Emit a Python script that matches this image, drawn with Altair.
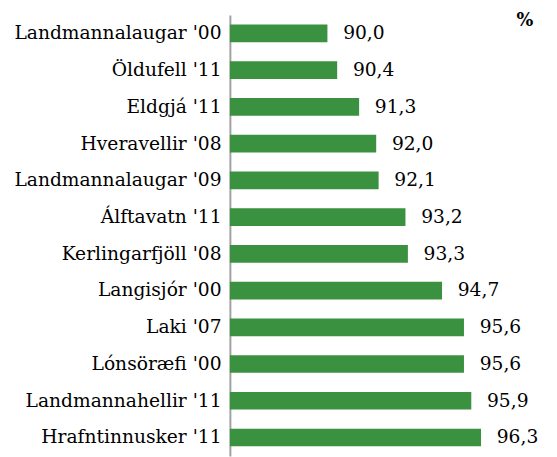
import altair as alt
import pandas as pd

categories = ["Landmannalaugar '00", "Öldufell '11", "Eldgjá '11", "Hveravellir '08",
              "Landmannalaugar '09", "Álftavatn '11", "Kerlingarfjöll '08", "Langisjór '00",
              "Laki '07", "Lónsöræfi '00", "Landmannahellir '11", "Hrafntinnusker '11"]
values = [90.0, 90.4, 91.3, 92.0, 92.1, 93.2, 93.3, 94.7, 95.6, 95.6, 95.9, 96.3]
axis_min = 86
axis_max = 98
labels = [f"{v:.1f}".replace(".", ",") for v in values]

df = pd.DataFrame({"cat": categories, "val": values, "lab": labels})
FONT = "DejaVu Serif"

y = alt.Y("cat:N", sort=categories, title=None,
          scale=alt.Scale(paddingInner=0.52, paddingOuter=0.26),
          axis=alt.Axis(labelFont=FONT, labelFontSize=19, labelColor="#000000",
                        labelPadding=9, ticks=False, domainColor="#a0a0a0",
                        domainWidth=2, labelLimit=300))
x = alt.X("val:Q", title=None, scale=alt.Scale(domain=[axis_min, axis_max], zero=False),
          axis=None)

bars = alt.Chart(df).mark_bar(color="#3A913F").encode(x=x, x2=alt.datum(axis_min), y=y)
text = alt.Chart(df).mark_text(align="left", dx=16, font=FONT, fontSize=19,
                               color="#000000").encode(x=x, y=y, text="lab:N")

chart = alt.layer(bars, text).properties(
    width=298, height=449,
    autosize=alt.AutoSizeParams(type="none"),
    padding={"left": 226, "top": 3, "right": 27, "bottom": 0},
    title=alt.TitleParams("%", anchor="end", font=FONT, fontSize=18, fontWeight="bold",
                          color="#000000", dx=-5, dy=19),
).configure_view(stroke=None)

chart.save("out.html", embed_options={"renderer": "svg", "actions": False})
